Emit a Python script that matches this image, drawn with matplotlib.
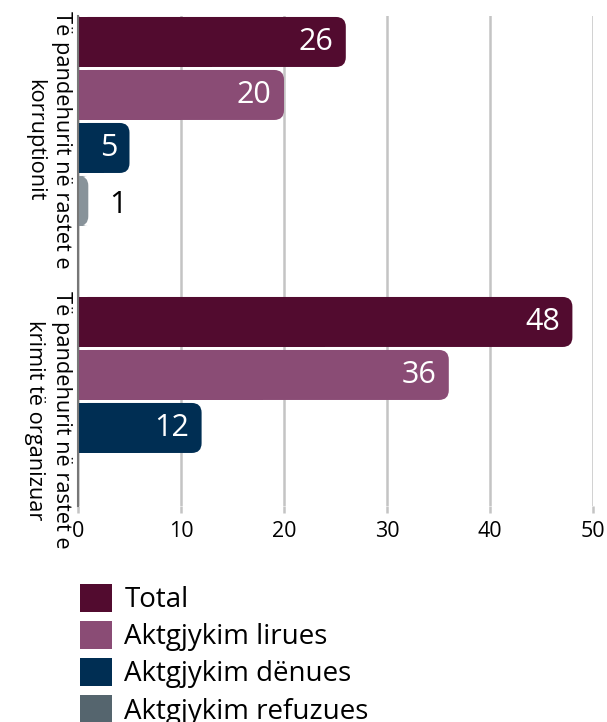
import matplotlib.pyplot as plt
from matplotlib.patches import FancyBboxPatch, Rectangle, Patch

plt.rcParams['font.family'] = ['Open Sans', 'DejaVu Sans']

# data
categories = ['Të pandehurit në rastet e\nkorruptionit',
              'Të pandehurit në rastet e\nkrimit të organizuar']
series = ['Total', 'Aktgjykim lirues', 'Aktgjykim dënues', 'Aktgjykim refuzues']
values = [
    [26, 48],   # Total
    [20, 36],   # lirues
    [5, 12],    # denues
    [1, 0],     # refuzues
]
bar_colors = ['#520b2f', '#8a4c75', '#002e53', '#88939a']
legend_colors = ['#520b2f', '#8a4c75', '#002e53', '#55656e']
xticks = [0, 10, 20, 30, 40, 50]

fig = plt.figure(figsize=(6.07, 7.22), dpi=100)
ax = fig.add_axes([78/607, 1-506/722, (593-78)/607, 490/722])

step = 1.0
bar_h = 50/53
group_gap = 5.283
first = 0.49

for s, vals in enumerate(values):
    ys = [first + g*group_gap + s*step for g in range(len(categories))]
    bars = ax.barh(ys, vals, height=bar_h, color=bar_colors[s])
    for b, v in zip(bars, vals):
        b.set_visible(False)
        if v <= 0:
            continue
        x0, y0, w, h = b.get_x(), b.get_y(), b.get_width(), b.get_height()
        r = min(0.95, w)
        # rounded right end
        ax.add_patch(FancyBboxPatch((x0, y0), w, h,
                                    boxstyle='round,pad=0,rounding_size=%f' % r,
                                    mutation_aspect=(10.3/53),
                                    fc=bar_colors[s], ec='none', zorder=3))
        # square left end
        ax.add_patch(Rectangle((x0, y0), w/2, h,
                               fc=bar_colors[s], ec='none', zorder=3))
        yc = y0 + h/2
        if v >= 3:
            ax.text(x0 + w - 1.2, yc, str(v), ha='right', va='center',
                    color='white', fontsize=22, zorder=4)
        else:
            ax.text(x0 + w + 2.0, yc + 0.08, str(v), ha='left', va='center',
                    color='black', fontsize=22, zorder=4)

ax.set_xlim(0, 50)
ax.set_ylim(490/53, 0)
ax.set_xticks(xticks)
ax.tick_params(axis='x', length=5, width=1.8, color='#c4c4c4', labelsize=15.5, pad=6)
ax.grid(axis='x', color='#c4c4c4', linewidth=1.8, zorder=0)
ax.set_axisbelow(True)

tick_pos = [first + g*group_gap + 1.85 for g in range(len(categories))]
ax.set_yticks(tick_pos)
ax.set_yticklabels(categories, rotation=-90, fontsize=15.7, linespacing=1.4,
                   va='center', ha='right', multialignment='center')
ax.tick_params(axis='y', length=0, pad=4)

for side in ['top', 'right', 'bottom']:
    ax.spines[side].set_visible(False)
ax.spines['left'].set_color('#777777')
ax.spines['left'].set_linewidth(1.5)
ax.spines['left'].set_zorder(5)

handles = [Patch(facecolor=c, edgecolor='none') for c in legend_colors]
fig.legend(handles, series, loc='upper left', bbox_to_anchor=(80/607, 1-584/722),
           frameon=False, fontsize=20, handlelength=1.15, handleheight=1.15,
           handletextpad=0.45, labelspacing=0.25, borderpad=0, borderaxespad=0)

fig.savefig('out.png', dpi=100)
